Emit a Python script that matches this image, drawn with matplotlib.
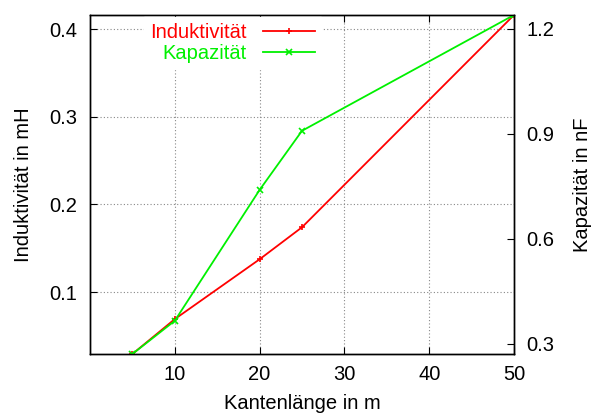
import matplotlib
matplotlib.use("Agg")
import matplotlib.pyplot as plt

plt.rcParams['font.family'] = ['Liberation Sans', 'DejaVu Sans']
plt.rcParams['font.size'] = 14.5

# edge length in m
kante = [5, 10, 20, 25, 50]
# inductance in mH
induktivitaet = [0.0295, 0.0693, 0.1375, 0.174, 0.416]
# capacitance in nF
kapazitaet = [0.271, 0.366, 0.74, 0.909, 1.24]

xticks = [10, 20, 30, 40, 50]
yticks_l = [0.1, 0.2, 0.3, 0.4]
yticks_r = [0.3, 0.6, 0.9, 1.2]

fig = plt.figure(figsize=(5.94, 4.15), dpi=100)
ax = fig.add_axes([90/594, 61/415, 424/594, 339/415])
ax2 = ax.twinx()

l1, = ax.plot(kante, induktivitaet, color='#ff0000', lw=1.3, marker='+',
              markersize=5, markeredgewidth=1.2, label='Induktivität')
l2, = ax2.plot(kante, kapazitaet, color='#00f000', lw=1.3, marker='x',
               markersize=4.5, markeredgewidth=1.2, label='Kapazität')

ax.set_xlim(0, 50)
ax.set_ylim(min(induktivitaet), max(induktivitaet))
ax2.set_ylim(min(kapazitaet), max(kapazitaet))

ax.set_xticks(xticks)
ax.set_yticks(yticks_l)
ax2.set_yticks(yticks_r)
ax.set_yticklabels([f"{v:.1f}" for v in yticks_l])
ax2.set_yticklabels([f"{v:.1f}" for v in yticks_r])

ax.grid(True, color='#888888', linestyle=(0, (1, 2)), linewidth=0.8)
ax.set_axisbelow(True)

ax.tick_params(axis='x', direction='in', top=True, length=5, pad=8)
ax.tick_params(axis='y', direction='in', right=False, length=5, pad=9)
ax2.tick_params(axis='y', direction='in', length=5, pad=9)

for a in (ax, ax2):
    for s in a.spines.values():
        s.set_linewidth(1.0)

ax.set_xlabel('Kantenlänge in m', labelpad=7)
ax.set_ylabel('Induktivität in mH', labelpad=12)
ax2.set_ylabel('Kapazität in nF', rotation=90, labelpad=13)

leg = ax2.legend(handles=[l1, l2], loc='upper right', markerfirst=False,
                 bbox_to_anchor=(321/594, 1 - 17/415),
                 bbox_transform=fig.transFigure, borderaxespad=0,
                 handlelength=2.6, handletextpad=0.8, labelspacing=0.1,
                 borderpad=0.3, frameon=True, fancybox=False,
                 facecolor='white', edgecolor='white', framealpha=1)
for t, ln in zip(leg.get_texts(), [l1, l2]):
    t.set_color(ln.get_color())

fig.savefig('out.png', dpi=100)
